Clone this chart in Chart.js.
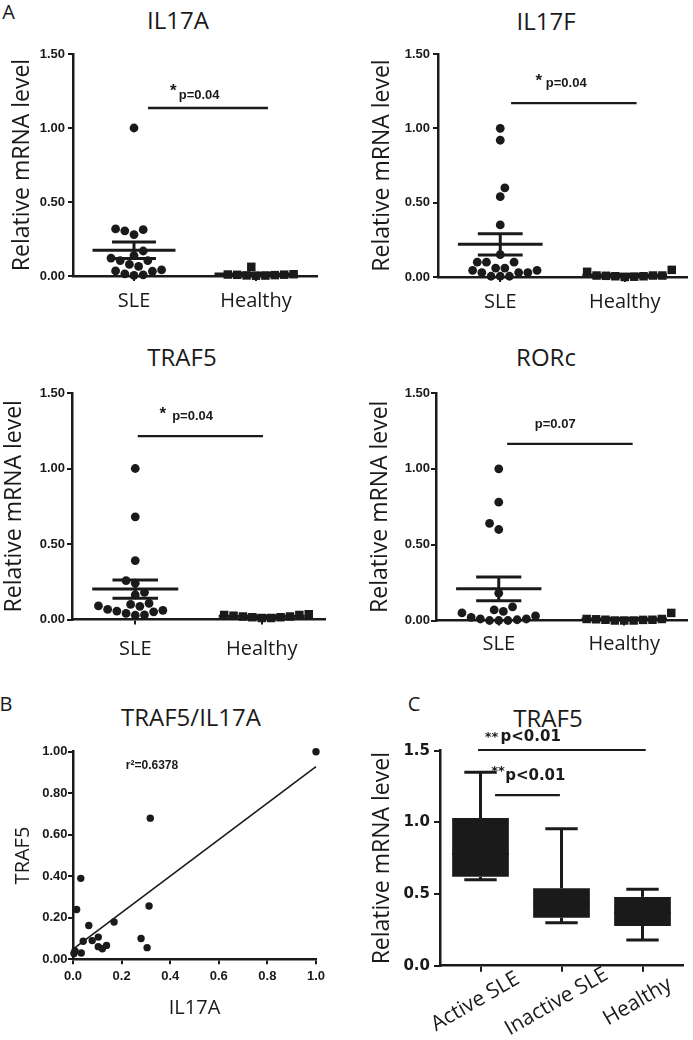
<!DOCTYPE html>
<html><head><meta charset="utf-8">
<script src="https://cdn.jsdelivr.net/npm/chart.js@4.4.1/dist/chart.umd.min.js"></script>
<style>
html,body{margin:0;padding:0;background:#fff;}
body{width:693px;height:1040px;position:relative;overflow:hidden;font-family:'Open Sans','Noto Sans',sans-serif;color:#1a1a1a;}
canvas{position:absolute;}
.t{position:absolute;transform:translate(-50%,-50%);white-space:nowrap;line-height:1;}
</style></head><body>
<div class="t" style="left:8.5px;top:11.5px;font-size:20px">A</div>
<div class="t" style="left:178px;top:19.5px;font-size:24px">IL17A</div>
<div class="t" style="left:546px;top:20.5px;font-size:24px">IL17F</div>
<div class="t" style="left:182px;top:357px;font-size:24px">TRAF5</div>
<div class="t" style="left:546px;top:357px;font-size:24px">RORc</div>
<div class="t" style="left:6px;top:704px;font-size:20px">B</div>
<div class="t" style="left:191px;top:717px;font-size:24px">TRAF5/IL17A</div>
<div class="t" style="left:414px;top:704px;font-size:20px">C</div>
<div class="t" style="left:548px;top:717.5px;font-size:24px">TRAF5</div>
<canvas id="c1" width="340" height="325" style="left:0;top:0"></canvas>
<canvas id="c2" width="353" height="325" style="left:340px;top:0"></canvas>
<canvas id="c3" width="340" height="345" style="left:0;top:325px"></canvas>
<canvas id="c4" width="353" height="345" style="left:340px;top:325px"></canvas>
<canvas id="c5" width="340" height="380" style="left:0;top:660px"></canvas>
<canvas id="c6" width="353" height="380" style="left:340px;top:660px"></canvas>
<script>
// ---------------- data ----------------
const groups = ['SLE', 'Healthy'];
// paired SLE patients (panel B: x = IL17A, y = TRAF5)
const il17aSLE = [1.00, 0.318, 0.032, 0.015, 0.313, 0.065, 0.169, 0.280, 0.305, 0.042, 0.079, 0.104, 0.104, 0.121, 0.138, 0.008, 0.004, 0.034];
const traf5SLE = [1.00, 0.680, 0.390, 0.240, 0.257, 0.163, 0.180, 0.100, 0.056, 0.087, 0.090, 0.107, 0.061, 0.051, 0.067, 0.040, 0.028, 0.030];
const il17aHealthy = [0.004, 0.008, 0.002, 0.010, 0.006, 0.012, 0.003, 0.062, 0.009];
const il17fSLE = [1.00, 0.92, 0.60, 0.54, 0.35, 0.15, 0.10, 0.10, 0.10, 0.06, 0.06, 0.045, 0.045, 0.03, 0.03, 0.03, 0.005, 0.005, 0.005];
const il17fHealthy = [0.000, 0.010, 0.005, 0.035, 0.010, 0.005, 0.048, 0.010, 0.002, 0.008];
const traf5Healthy = [0.020, 0.010, 0.030, 0.015, 0.030, 0.010, 0.035, 0.020, 0.015, 0.025];
const rorcSLE = [1.00, 0.78, 0.64, 0.60, 0.18, 0.09, 0.07, 0.06, 0.05, 0.03, 0.02, 0.01, 0.01, 0.005, 0.0, 0.0, 0.0];
const rorcHealthy = [0.000, 0.005, 0.010, 0.000, 0.005, 0.010, 0.050, 0.000, 0.008, 0.004];
const pLabels = ['p=0.04', 'p=0.04', 'p=0.04', 'p=0.07'];
const boxGroups = ['Active SLE', 'Inactive SLE', 'Healthy'];
const boxMin = [0.60, 0.30, 0.18];
const boxQ1 = [0.62, 0.335, 0.277];
const boxMedian = [0.78, 0.43, 0.37];
const boxQ3 = [1.03, 0.54, 0.48];
const boxMax = [1.35, 0.955, 0.533];
const boxP = ['p<0.01', 'p<0.01'];
const r2Label = 'r\u00B2=0.6378';
const yTitle = 'Relative mRNA level';

// ---------------- style ----------------
const INK = '#1a1a1a';
const SANS = "'Open Sans', 'Noto Sans', sans-serif";
const NUM = "'Liberation Sans', Arial, sans-serif";
const WIDE = "'DejaVu Sans', sans-serif";

function seg(x1, y1, x2, y2, w) {
  return { data: [{x: x1, y: y1}, {x: x2, y: y2}], showLine: true, borderColor: INK, borderWidth: w,
           pointRadius: 0, pointHoverRadius: 0, clip: false, borderCapStyle: 'butt' };
}
function meanSem(v) {
  const n = v.length, m = v.reduce((a, b) => a + b, 0) / n;
  const sd = Math.sqrt(v.reduce((a, b) => a + (b - m) * (b - m), 0) / (n - 1));
  return { m, se: sd / Math.sqrt(n) };
}
function errorBars(cx, v) {
  const { m, se } = meanSem(v);
  return [seg(cx - 0.34, m, cx + 0.34, m, 3), seg(cx - 0.18, m + se, cx + 0.18, m + se, 3),
          seg(cx - 0.18, m - se, cx + 0.18, m - se, 3), seg(cx, m - se, cx, m + se, 3)];
}
function beeswarm(ypx, diam) {
  const order = ypx.map((v, i) => i).sort((a, b) => ypx[a] - ypx[b]);
  const placed = [], off = new Array(ypx.length).fill(0);
  const step = diam / 2; let bias = 0;
  for (const i of order) {
    const y = ypx[i]; let pos = null;
    for (let k = 0; pos === null; k++) {
      const c = k === 0 ? [0] : (bias > 0 ? [-k * step, k * step] : [k * step, -k * step]);
      for (const cx of c) {
        if (placed.every(p => (p.x - cx) ** 2 + (p.y - y) ** 2 >= diam * diam - 0.01)) { pos = cx; break; }
      }
    }
    placed.push({ x: pos, y }); bias += Math.sign(pos); off[i] = pos;
  }
  return off;
}
function swarmify(chart, di, values, center, diam) {
  const xs = chart.scales.x, ys = chart.scales.y;
  const pxX = xs.getPixelForValue(center + 1) - xs.getPixelForValue(center);
  const pxY = ys.getPixelForValue(0) - ys.getPixelForValue(1);
  const offs = beeswarm(values.map(v => v * pxY), diam);
  chart.data.datasets[di].data = values.map((v, i) => ({ x: center + offs[i] / pxX, y: v }));
}
function makeNotes(items) {
  return { id: 'notes', afterDatasetsDraw(chart) {
    const xs = chart.scales.x, ys = chart.scales.y, ctx = chart.ctx;
    ctx.save(); ctx.fillStyle = INK; ctx.textAlign = 'center'; ctx.textBaseline = 'middle';
    items.forEach(it => { ctx.font = it.font; ctx.fillText(it.text, xs.getPixelForValue(it.x), ys.getPixelForValue(it.y)); });
    ctx.restore();
  }};
}
function makeRotLabels(labels, o) {
  return { id: 'rotLabels', afterDraw(chart) {
    const xs = chart.scales.x, ctx = chart.ctx;
    ctx.save(); ctx.fillStyle = INK; ctx.font = o.font; ctx.textAlign = 'center'; ctx.textBaseline = 'middle';
    labels.forEach((t, i) => {
      ctx.save();
      ctx.translate(xs.getPixelForValue(i + 1) + o.dx, xs.top + o.dy);
      ctx.rotate(-o.angle * Math.PI / 180);
      ctx.fillText(t, 0, 0);
      ctx.restore();
    });
    ctx.restore();
  }};
}
const gridOpt = (tl) => ({ display: true, drawOnChartArea: false, drawTicks: true, tickLength: tl, color: INK, lineWidth: 2, offset: false });
const borderOpt = { display: true, color: INK, width: 2.5 };
const baseOpts = { responsive: false, animation: false, events: [], plugins: { legend: { display: false }, tooltip: { enabled: false } } };

function dotPanel(id, sle, healthy, L, sig, pText) {
  const chart = new Chart(document.getElementById(id), {
    type: 'scatter',
    data: { datasets: [
      { data: sle.map(v => ({ x: 1, y: v })), pointStyle: 'circle', pointRadius: 4.4, pointHoverRadius: 4.4, backgroundColor: INK, borderWidth: 0, clip: false },
      { data: healthy.map(v => ({ x: 2, y: v })), pointStyle: 'rect', pointRadius: 6, pointHoverRadius: 6, backgroundColor: INK, borderWidth: 0, clip: false },
      ...errorBars(1, sle), ...errorBars(2, healthy),
      seg(sig.x1, sig.y, sig.x2, sig.y, 2.3)
    ]},
    options: Object.assign({}, baseOpts, {
      layout: { padding: { left: 0, top: L.top, right: L.right, bottom: L.bottom } },
      scales: {
        x: { type: 'linear', min: 0.5, max: 2.5, offset: false,
             afterBuildTicks: s => { s.ticks = groups.map((g, i) => ({ value: i + 1 })); },
             afterFit: s => { s.height = L.xh; },
             ticks: { callback: v => groups[Math.round(v) - 1], font: { family: SANS, size: 20, lineHeight: 1.2 }, color: INK, padding: L.xpad, maxRotation: 0, autoSkip: false },
             grid: gridOpt(5), border: borderOpt },
        y: { type: 'linear', min: 0, max: 1.5,
             afterFit: s => { s.width = L.yw; },
             ticks: { stepSize: 0.5, callback: v => v.toFixed(2), font: { family: NUM, size: 13, weight: 'bold' }, color: INK, padding: L.ypad },
             grid: gridOpt(5), border: borderOpt,
             title: { display: true, text: yTitle, font: { family: SANS, size: 23, lineHeight: 1.2 }, color: INK, padding: { top: L.ytp, bottom: 0 } } }
      }
    }),
    plugins: [makeNotes([
      { x: sig.tx, y: sig.ty, text: pText, font: `bold 13px ${NUM}` },
      ...(sig.star ? [{ x: sig.sx, y: sig.sy, text: '*', font: `bold 17px ${NUM}` }] : [])
    ])]
  });
  swarmify(chart, 0, sle, 1, 9.2);
  swarmify(chart, 1, healthy, 2, 9.4);
  chart.update('none');
  return chart;
}

dotPanel('c1', il17aSLE, il17aHealthy,
  { yw: 73, top: 54, right: 23, bottom: 4, xh: 45, xpad: 8.5, ypad: 3, ytp: 8.2 },
  { x1: 1.115, x2: 2.098, y: 1.135, tx: 1.534, ty: 1.223, star: true, sx: 1.322, sy: 1.25 }, pLabels[0]);
dotPanel('c2', il17fSLE, il17fHealthy,
  { yw: 98, top: 54, right: 3, bottom: 3, xh: 45, xpad: 8, ypad: 3, ytp: 28.2 },
  { x1: 1.087, x2: 2.095, y: 1.17, tx: 1.53, ty: 1.305, star: true, sx: 1.31, sy: 1.318 }, pLabels[1]);
dotPanel('c3', traf5SLE, traf5Healthy,
  { yw: 72, top: 68, right: 15, bottom: 4.5, xh: 46, xpad: 13, ypad: 2, ytp: 0.5 },
  { x1: 1.02, x2: 2.01, y: 1.215, tx: 1.453, ty: 1.348, star: true, sx: 1.217, sy: 1.36 }, pLabels[2]);
dotPanel('c4', rorcSLE, rorcHealthy,
  { yw: 96, top: 68, right: 3, bottom: 3.5, xh: 46, xpad: 6.5, ypad: 1, ytp: 26.2 },
  { x1: 1.067, x2: 2.067, y: 1.165, tx: 1.45, ty: 1.29, star: false }, pLabels[3]);

// ---------------- panel B ----------------
(function () {
  const n = il17aSLE.length;
  const mx = il17aSLE.reduce((a, b) => a + b, 0) / n, my = traf5SLE.reduce((a, b) => a + b, 0) / n;
  let sxy = 0, sxx = 0;
  for (let i = 0; i < n; i++) { sxy += (il17aSLE[i] - mx) * (traf5SLE[i] - my); sxx += (il17aSLE[i] - mx) ** 2; }
  const slope = sxy / sxx, icpt = my - slope * mx;
  new Chart(document.getElementById('c5'), {
    type: 'scatter',
    data: { datasets: [
      { data: il17aSLE.map((x, i) => ({ x, y: traf5SLE[i] })), pointRadius: 3.7, pointHoverRadius: 3.7, backgroundColor: INK, borderWidth: 0, clip: false },
      seg(0, icpt, 1, icpt + slope, 1.6)
    ]},
    options: Object.assign({}, baseOpts, {
      layout: { padding: { left: 0, top: 91.7, right: 24, bottom: 4.7 } },
      scales: {
        x: { type: 'linear', min: 0, max: 1, afterFit: s => { s.height = 76; },
             ticks: { stepSize: 0.2, callback: v => v.toFixed(1), font: { family: NUM, size: 13, weight: 'bold' }, color: INK, padding: 4.6, maxRotation: 0 },
             grid: gridOpt(5), border: borderOpt,
             title: { display: true, text: 'IL17A', font: { family: SANS, size: 20, lineHeight: 1.2 }, color: INK, padding: { top: 0, bottom: 15.3 } } },
        y: { type: 'linear', min: 0, max: 1, afterFit: s => { s.width = 73; },
             ticks: { stepSize: 0.2, callback: v => v.toFixed(2), font: { family: NUM, size: 13, weight: 'bold' }, color: INK, padding: 0.5 },
             grid: gridOpt(5), border: borderOpt,
             title: { display: true, text: 'TRAF5', font: { family: SANS, size: 20, lineHeight: 1.2 }, color: INK, padding: { top: 11, bottom: 0 } } }
      }
    }),
    plugins: [makeNotes([{ x: 0.325, y: 0.935, text: r2Label, font: `bold 12px ${NUM}` }])]
  });
})();

// ---------------- panel C ----------------
(function () {
  const whiskers = [];
  boxGroups.forEach((g, i) => {
    const c = i + 1;
    whiskers.push(seg(c, boxQ3[i], c, boxMax[i], 3), seg(c - 0.2, boxMax[i], c + 0.2, boxMax[i], 3),
                  seg(c, boxMin[i], c, boxQ1[i], 3), seg(c - 0.2, boxMin[i], c + 0.2, boxMin[i], 3),
                  seg(c - 0.35, boxMedian[i], c + 0.35, boxMedian[i], 2));
  });
  new Chart(document.getElementById('c6'), {
    type: 'scatter',
    data: { datasets: [
      { type: 'bar', data: boxGroups.map((g, i) => ({ x: i + 1, y: [boxQ1[i], boxQ3[i]] })), backgroundColor: INK, borderWidth: 0,
        barPercentage: 0.7, categoryPercentage: 1, clip: false },
      ...whiskers,
      seg(0.97, 1.505, 3.04, 1.505, 2.2), seg(1.18, 1.19, 1.98, 1.19, 2.2)
    ]},
    options: Object.assign({}, baseOpts, {
      layout: { padding: { left: 0, top: 90.7, right: 10, bottom: 4.3 } },
      scales: {
        x: { type: 'linear', min: 0.5, max: 3.5, offset: false,
             afterBuildTicks: s => { s.ticks = boxGroups.map((g, i) => ({ value: i + 1 })); },
             afterFit: s => { s.height = 70; },
             ticks: { display: false },
             grid: gridOpt(6), border: borderOpt },
        y: { type: 'linear', min: 0, max: 1.5, afterFit: s => { s.width = 100; },
             ticks: { stepSize: 0.5, callback: v => v.toFixed(1), font: { family: WIDE, size: 15, weight: 'bold' }, color: INK, padding: 4 },
             grid: gridOpt(6), border: borderOpt,
             title: { display: true, text: yTitle, font: { family: SANS, size: 23, lineHeight: 1.2 }, color: INK, padding: { top: 28.2, bottom: 0 } } }
      }
    }),
    plugins: [
      makeNotes([
        { x: 1.62, y: 1.598, text: boxP[0], font: `bold 15px ${WIDE}` },
        { x: 1.136, y: 1.59, text: '**', font: `bold 13px ${WIDE}` },
        { x: 1.677, y: 1.324, text: boxP[1], font: `bold 15px ${WIDE}` },
        { x: 1.217, y: 1.354, text: '**', font: `bold 13px ${WIDE}` }
      ]),
      makeRotLabels(boxGroups, { font: `21px ${SANS}`, dx: -5, dy: 36, angle: 30 })
    ]
  });
})();
</script>
</body></html>
